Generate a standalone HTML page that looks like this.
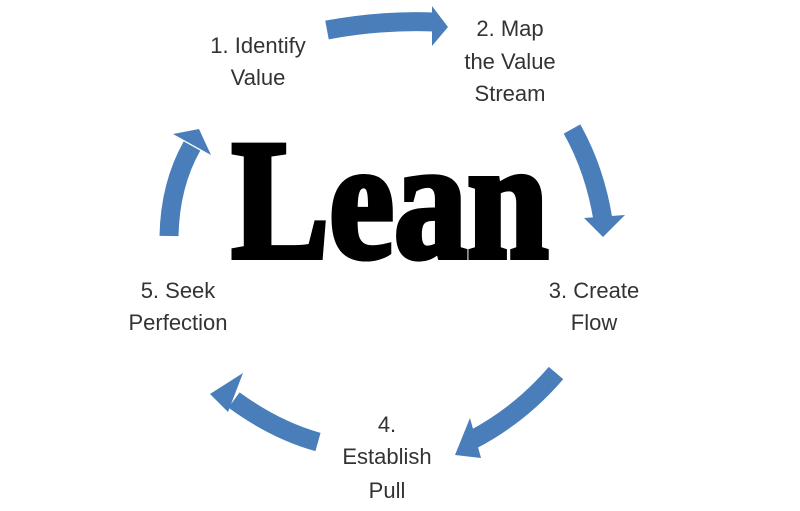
<!DOCTYPE html>
<html><head><style>
html,body{margin:0;padding:0;background:#fff;}
body{width:800px;height:506px;overflow:hidden;}
</style></head><body>
<svg width="800" height="506" viewBox="0 0 800 506" xmlns="http://www.w3.org/2000/svg">
<g fill="none" stroke="#4a7ebb" stroke-width="19" stroke-linecap="butt">
  <path d="M327 30 Q380 20 434 22"/>
  <path d="M572 129 Q595 170 603 220"/>
  <path d="M556 373 Q520 415 472 440"/>
  <path d="M318 442 Q275 430 234 400"/>
  <path d="M169 236 Q170 185 192 146"/>
</g>
<g fill="#4a7ebb">
  <polygon points="432,6 448,27 432,46"/>
  <polygon points="584,218 625,215 603,237"/>
  <polygon points="470,418 455,455 481,458"/>
  <polygon points="243,373 210,394 228,412"/>
  <polygon points="173,134 199,129 211,155"/>
</g>
<text x="390" y="257" text-anchor="middle" font-family="Liberation Serif, serif" font-weight="bold" font-size="170" fill="#000" stroke="#000" stroke-width="6" stroke-linejoin="miter" transform="translate(390 0) scale(0.86 1) translate(-390 0)">Lean</text>
<g font-family="Liberation Sans, DejaVu Sans, sans-serif" font-size="22" fill="#333" text-anchor="middle">
  <text x="258" y="53">1. Identify</text>
  <text x="258" y="85">Value</text>
  <text x="510" y="36">2. Map</text>
  <text x="510" y="69">the Value</text>
  <text x="510" y="101">Stream</text>
  <text x="594" y="298">3. Create</text>
  <text x="594" y="330">Flow</text>
  <text x="178" y="298">5. Seek</text>
  <text x="178" y="330">Perfection</text>
  <text x="387" y="432">4.</text>
  <text x="387" y="464">Establish</text>
  <text x="387" y="498">Pull</text>
</g>
</svg>
</body></html>
